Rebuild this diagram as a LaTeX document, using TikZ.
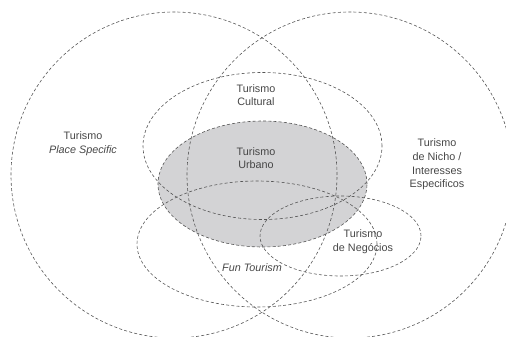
\documentclass[tikz,border=0pt]{standalone}
\usepackage{fontspec}
\setmainfont{Liberation Sans}
\definecolor{linegray}{RGB}{85,85,85}
\definecolor{textgray}{RGB}{70,70,70}
\definecolor{urbfill}{RGB}{211,211,213}
\tikzset{
  venn/.style={draw=linegray, line width=0.6pt, dash pattern=on 3pt off 2.2pt},
  lbl/.style={text=textgray, font=\fontsize{10.8}{13.7}\selectfont, align=center, inner sep=0pt}
}
\begin{document}
\begin{tikzpicture}[x=1pt,y=-1pt]
\useasboundingbox (0,0) rectangle (506,337);
\clip (0,0) rectangle (506,337);
% filled urban ellipse
\fill[urbfill] (262.5,184) ellipse [x radius=104.5pt, y radius=63pt];
% outlines
\draw[venn] (174,175) circle [radius=163pt];
\draw[venn] (350,175) circle [radius=163pt];
\draw[venn] (262.5,146) ellipse [x radius=119.5pt, y radius=73.5pt];
\draw[venn] (262.5,184) ellipse [x radius=104.5pt, y radius=63pt];
\draw[venn] (257,244) ellipse [x radius=120pt, y radius=63pt];
\draw[venn] (340.5,236) ellipse [x radius=80.5pt, y radius=40pt];
% labels
\node[lbl] (place) at (83,144) {Turismo\\\itshape Place Specific};
\node[lbl] (cult) at (256,95) {Turismo\\Cultural};
\node[lbl] (urb) at (256,158) {Turismo\\Urbano};
\node[lbl] (nicho) at (437,164.5) {Turismo\\de Nicho /\\Interesses\\Especificos};
\node[lbl] (neg) at (363,242) {Turismo\\de Negócios};
\node[lbl, font=\fontsize{10.8}{13.7}\selectfont\itshape] (fun) at (252,268) {Fun Tourism};
\end{tikzpicture}
\end{document}
